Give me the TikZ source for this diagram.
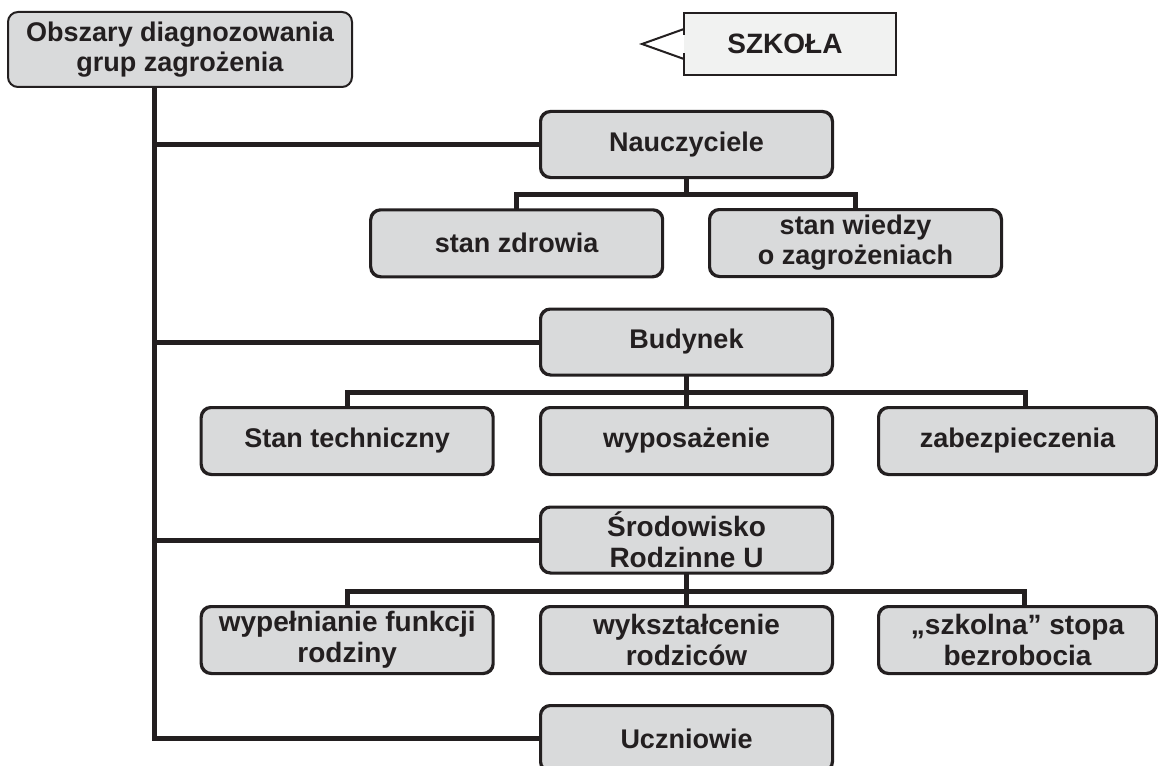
\documentclass[tikz,border=0pt]{standalone}
\usepackage{fontspec}
\setmainfont{Liberation Sans}
\usetikzlibrary{calc}
\definecolor{ink}{HTML}{231F20}
\definecolor{boxgray}{HTML}{D9DADB}
\definecolor{callfill}{HTML}{F1F2F1}
\begin{document}
\begin{tikzpicture}[x=1pt,y=-1pt,
  every node/.style={text=ink},
  box/.style={draw=ink, line width=2pt, fill=boxgray, rounded corners=10pt,
    minimum width=291pt, minimum height=65pt, inner sep=0pt, align=center,
    font=\fontsize{27}{30}\selectfont\bfseries},
  bigtext/.style={font=\fontsize{28}{31}\selectfont\bfseries},
  conn/.style={draw=ink, line width=5pt},
  callout/.style={draw=ink, line width=2pt}]
\useasboundingbox (0,0) rectangle (1158,765);
\clip (0,0) rectangle (1158,765);

% root
\node[box, minimum width=344pt, minimum height=75pt] (root) at (180,49.5)
  {Obszary diagnozowania\\grup zagrożenia};

% SZKOLA callout
\fill[callfill] (684,12.7) rectangle (896,75);
\draw[callout] (684,35) -- (684,12.7) -- (896,12.7) -- (896,75) -- (684,75) -- (684,53);
\draw[callout] (684,29) -- (642,44) -- (684,59);
\node[font=\fontsize{28}{31}\selectfont\bfseries] (szkola) at (785,44) {SZKOŁA};

% level 1
\node[box] (nau) at (686.5,144.5) {Nauczyciele};
\node[box] (bud) at (686.5,342) {Budynek};
\node[box, bigtext] (sro) at (686.5,540) {Środowisko\\Rodzinne U};
\node[box] (ucz) at (686.5,738.5) {Uczniowie};

% level 2
\node[box, minimum height=66pt] (zdr) at (516.7,243.3) {stan zdrowia};
\node[box, minimum height=66pt] (wie) at (855.5,243) {stan wiedzy\\o zagrożeniach};

\node[box, minimum height=66pt] (tech) at (347.2,441) {Stan techniczny};
\node[box, minimum height=66pt] (wyp) at (686.5,441) {wyposażenie};
\node[box, minimum width=277pt, minimum height=66pt] (zab) at (1017.5,441) {zabezpieczenia};

\node[box, bigtext, minimum height=66pt] (fun) at (347.2,640) {wypełnianie funkcji\\rodziny};
\node[box, bigtext, minimum height=66pt] (wyk) at (686.5,640) {wykształcenie\\rodziców};
\node[box, bigtext, minimum width=277pt, minimum height=66pt] (bez) at (1017.5,640) {„szkolna” stopa\\bezrobocia};

% trunk
\coordinate (tx) at (154,0);
\draw[conn] (root.south -| tx) -- (tx |- ucz.west) -- (ucz.west);
\draw[conn] (tx |- nau.west) -- (nau.west);
\draw[conn] (tx |- bud.west) -- (bud.west);
\draw[conn] (tx |- sro.west) -- (sro.west);

% Nauczyciele children
\coordinate (b1) at ($(nau.south)+(0,16.5)$);
\draw[conn] (nau.south) -- (b1);
\draw[conn] (zdr.north) |- (b1) -| (wie.north);

% Budynek children
\coordinate (b2) at ($(bud.south)+(0,16.5)$);
\coordinate (zabtop) at (1025,408);
\draw[conn] (bud.south) -- (wyp.north);
\draw[conn] (tech.north) |- (b2) -| (zabtop);

% Srodowisko children
\coordinate (b3) at ($(sro.south)+(0,17.5)$);
\coordinate (beztop) at (1024.5,607);
\draw[conn] (sro.south) -- (wyk.north);
\draw[conn] (fun.north) |- (b3) -| (beztop);

% redraw box borders over connector ends
\foreach \n in {nau,bud,sro,ucz,zdr,wie,tech,wyp,zab,fun,wyk,bez}{
  \draw[draw=ink, line width=2pt, rounded corners=10pt]
    (\n.north west) rectangle (\n.south east);
}
\end{tikzpicture}
\end{document}
